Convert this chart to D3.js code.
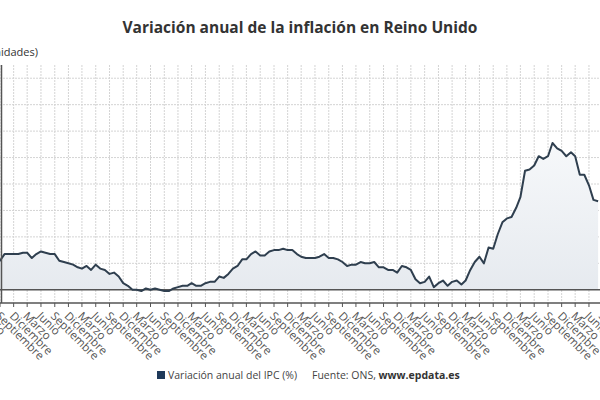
<!DOCTYPE html>
<html>
<head>
<meta charset="utf-8">
<script src="https://cdn.jsdelivr.net/npm/d3@7"></script>
<style>
body { margin: 0; background: #fff; }
text { font-family: "Open Sans", sans-serif; }
</style>
</head>
<body>
<div id="container"></div>
<script>
// monthly values from Aug 2012
var startYear = 2012;
var startMonth = 7; // August (0-based)
var values = [
    2.5, 2.2, 2.7, 2.7, 2.7,
    2.7, 2.8, 2.8, 2.4, 2.7, 2.9, 2.8, 2.7, 2.7, 2.2, 2.1, 2.0,
    1.9, 1.7, 1.6, 1.8, 1.5, 1.9, 1.6, 1.5, 1.2, 1.3, 1.0, 0.5,
    0.3, 0.0, 0.0, -0.1, 0.1, 0.0, 0.1, 0.0, -0.1, -0.1, 0.1, 0.2,
    0.3, 0.3, 0.5, 0.3, 0.3, 0.5, 0.6, 0.6, 1.0, 0.9, 1.2, 1.6,
    1.8, 2.3, 2.3, 2.7, 2.9, 2.6, 2.6, 2.9, 3.0, 3.0, 3.1, 3.0,
    3.0, 2.7, 2.5, 2.4, 2.4, 2.4, 2.5, 2.7, 2.4, 2.4, 2.3, 2.1,
    1.8, 1.9, 1.9, 2.1, 2.0, 2.0, 2.1, 1.7, 1.7, 1.5, 1.5, 1.3,
    1.8, 1.7, 1.5, 0.8, 0.5, 0.6, 1.0, 0.2, 0.5, 0.7, 0.3, 0.6,
    0.7, 0.4, 0.7, 1.5, 2.1, 2.5, 2.0, 3.2, 3.1, 4.2, 5.1, 5.4,
    5.5, 6.2, 7.0, 9.0, 9.1, 9.4, 10.1, 9.9, 10.1, 11.1, 10.7, 10.5,
    10.1, 10.4, 10.1, 8.7, 8.7, 7.9, 6.8, 6.7
];
var monthNames = ['Enero', 'Febrero', 'Marzo', 'Abril', 'Mayo', 'Junio', 'Julio',
    'Agosto', 'Septiembre', 'Octubre', 'Noviembre', 'Diciembre'];
var yGrid = [2, 4, 6, 8, 10, 12, 14, 16];

var data = values.map(function (v, i) {
    return { date: new Date(startYear, startMonth + i, 1), value: v };
});

var svg = d3.select('#container').append('svg')
    .attr('width', 600).attr('height', 400);

var x = d3.scaleTime()
    .domain([new Date(2012, 8, 1), new Date(2022, 8, 1)])
    .range([0, 548]);
var y = d3.scaleLinear().domain([-1, 17]).range([303, 65]);

var defs = svg.append('defs');
var grad = defs.append('linearGradient').attr('id', 'fillGrad')
    .attr('x1', 0).attr('y1', 0).attr('x2', 0).attr('y2', 1);
grad.append('stop').attr('offset', '0%').attr('stop-color', '#f6f8fa');
grad.append('stop').attr('offset', '100%').attr('stop-color', '#e6eaef');

// month ticks (quarterly)
var ticks = d3.timeMonth.range(new Date(2012, 2, 1), new Date(2024, 0, 1), 3);

svg.append('g').selectAll('line.v')
    .data(ticks).enter().append('line')
    .attr('x1', function (d) { return x(d); })
    .attr('x2', function (d) { return x(d); })
    .attr('y1', 65).attr('y2', 303)
    .attr('stroke', '#d4d4d4').attr('stroke-dasharray', '2,1');

svg.append('g').selectAll('line.h')
    .data(yGrid).enter().append('line')
    .attr('x1', 0).attr('x2', 600)
    .attr('y1', function (d) { return y(d); })
    .attr('y2', function (d) { return y(d); })
    .attr('stroke', '#d4d4d4').attr('stroke-dasharray', '2,1');

var area = d3.area()
    .x(function (d) { return x(d.date); })
    .y0(y(0))
    .y1(function (d) { return y(d.value); });
var line = d3.line()
    .x(function (d) { return x(d.date); })
    .y(function (d) { return y(d.value); });

svg.append('path').datum(data).attr('d', area).attr('fill', 'url(#fillGrad)');

svg.append('line').attr('x1', 0).attr('x2', 600)
    .attr('y1', y(0)).attr('y2', y(0))
    .attr('stroke', '#555').attr('stroke-width', 1.5);

svg.append('path').datum(data).attr('d', line)
    .attr('fill', 'none').attr('stroke', '#2f3f4f').attr('stroke-width', 2)
    .attr('stroke-linejoin', 'round');

// axes
svg.append('line').attr('x1', 1.5).attr('x2', 1.5).attr('y1', 65).attr('y2', 303)
    .attr('stroke', '#555').attr('stroke-width', 1.5);

var xAxis = svg.append('g').attr('transform', 'translate(0,303)');
xAxis.append('line').attr('x1', 0).attr('x2', 600).attr('stroke', '#555').attr('stroke-width', 1.5);
var tk = xAxis.selectAll('g.tick').data(ticks).enter().append('g')
    .attr('transform', function (d) { return 'translate(' + x(d) + ',0)'; });
tk.append('line').attr('y1', 0).attr('y2', 4).attr('stroke', '#555');
tk.append('text')
    .attr('transform', 'translate(1,8) rotate(45)')
    .attr('text-anchor', 'start')
    .attr('dy', '0.7em')
    .attr('font-size', 11.5)
    .attr('fill', '#555')
    .text(function (d) { return monthNames[d.getMonth()]; });

// titles
svg.append('text').attr('x', 300).attr('y', 33).attr('text-anchor', 'middle')
    .attr('font-size', 15.5).attr('font-weight', 'bold').attr('fill', '#333')
    .text('Variación anual de la inflación en Reino Unido');
svg.append('text').attr('x', 38).attr('y', 56).attr('text-anchor', 'end')
    .attr('font-size', 11).attr('fill', '#333')
    .text('(Unidades)');

// legend
svg.append('rect').attr('x', 157).attr('y', 371).attr('width', 8).attr('height', 8).attr('fill', '#1f3a5a');
svg.append('text').attr('x', 168).attr('y', 379).attr('font-size', 10.5).attr('fill', '#444')
    .text('Variación anual del IPC (%)');
var src = svg.append('text').attr('x', 312).attr('y', 379).attr('font-size', 10.5).attr('fill', '#444');
src.append('tspan').text('Fuente: ONS, ');
src.append('tspan').attr('font-weight', 'bold').attr('fill', '#333').text('www.epdata.es');
</script>
</body>
</html>
